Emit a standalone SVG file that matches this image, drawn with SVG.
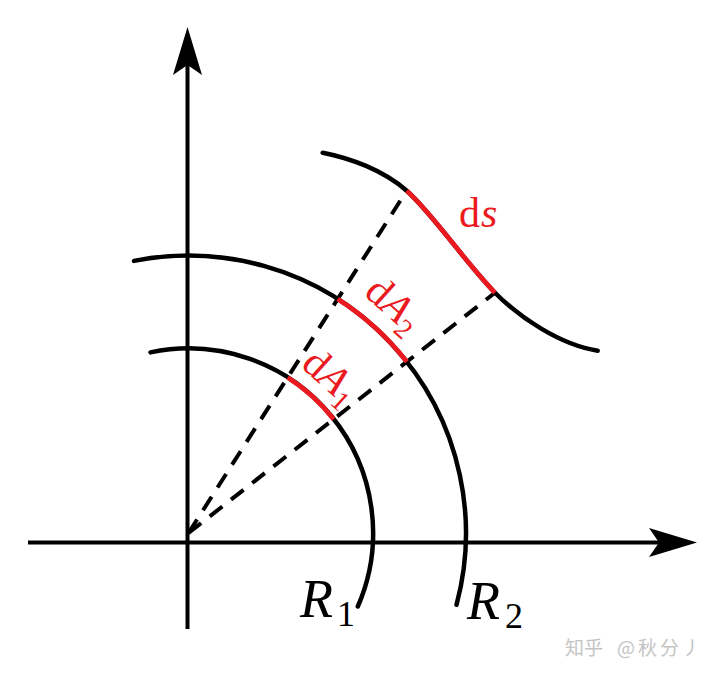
<svg xmlns="http://www.w3.org/2000/svg" width="718" height="682" viewBox="0 0 718 682">
<style>
.axis{stroke:#000;stroke-width:4;fill:none}
.curve{stroke:#000;stroke-width:4.5;fill:none;stroke-linecap:round}
.red{stroke:#ea1a20;stroke-width:4.8;fill:none}
.dash{stroke:#000;stroke-width:4;fill:none;stroke-dasharray:16 11}
.lbl{font-family:"Liberation Serif","DejaVu Serif",serif;fill:#ea1a20;font-size:42px}
.rl{font-family:"Liberation Serif","DejaVu Serif",serif;fill:#000;font-size:54px}
.wm{font-family:"Noto Sans CJK SC",sans-serif;fill:#c4c4c4;font-size:19px}
</style>
<defs>
<marker id="arr" markerUnits="userSpaceOnUse" viewBox="-12 -16 52 32" markerWidth="52" markerHeight="32" refX="0" refY="0" orient="auto">
<path d="M38,0 L-10,-14.5 L0,0 L-10,14.5 Z" fill="#000"/>
</marker>
</defs>
<g id="axes">
<path id="x-axis" class="axis" d="M28,542.5 H659" marker-end="url(#arr)"/>
<path id="y-axis" class="axis" d="M187.5,629 V65" marker-end="url(#arr)"/>
</g>
<g id="connectors">
<path class="dash" d="M188.5,533 L406.7,190.7"/>
<path class="dash" d="M188.5,533 L495,292.7"/>
</g>
<g id="arc-R1">
<path class="curve" d="M150.5,352.4 A184.5,184.5 0 0 1 357.8,606.5"/>
<path class="red" d="M287.7,377.4 A184.5,184.5 0 0 1 333.7,419.2"/>
<text class="lbl" transform="translate(329,379) rotate(42)" text-anchor="middle" y="10">d<tspan font-style="italic">A</tspan><tspan font-size="28" dy="8">1</tspan></text>
<text class="rl" x="300" y="617"><tspan font-style="italic">R</tspan><tspan font-size="36" dy="9" dx="4">1</tspan></text>
</g>
<g id="arc-R2">
<path class="curve" d="M134,260.9 A277.5,277.5 0 0 1 456.5,604.8"/>
<path class="red" d="M337.7,299 A277.5,277.5 0 0 1 406.9,361.8"/>
<text class="lbl" transform="translate(392,307) rotate(42)" text-anchor="middle" y="10">d<tspan font-style="italic">A</tspan><tspan font-size="28" dy="8">2</tspan></text>
<text class="rl" x="467" y="619"><tspan font-style="italic">R</tspan><tspan font-size="36" dy="9" dx="5">2</tspan></text>
</g>
<g id="curve-ds">
<path class="curve" d="M322.7,152.7 C350,158 383,170 406.7,190.7 C432,213 465,262 495,292.7 C519,317 560,345 597.7,350.7"/>
<path class="red" d="M406.7,190.7 C432,213 465,262 495,292.7"/>
<text class="lbl" x="459" y="227" font-size="40" letter-spacing="1">d<tspan font-style="italic">s</tspan></text>
</g>
<g id="watermark">
<text class="wm" x="565" y="655">知乎</text>
<text class="wm" x="617" y="655" letter-spacing="3">@秋分丿</text>
</g>
</svg>
